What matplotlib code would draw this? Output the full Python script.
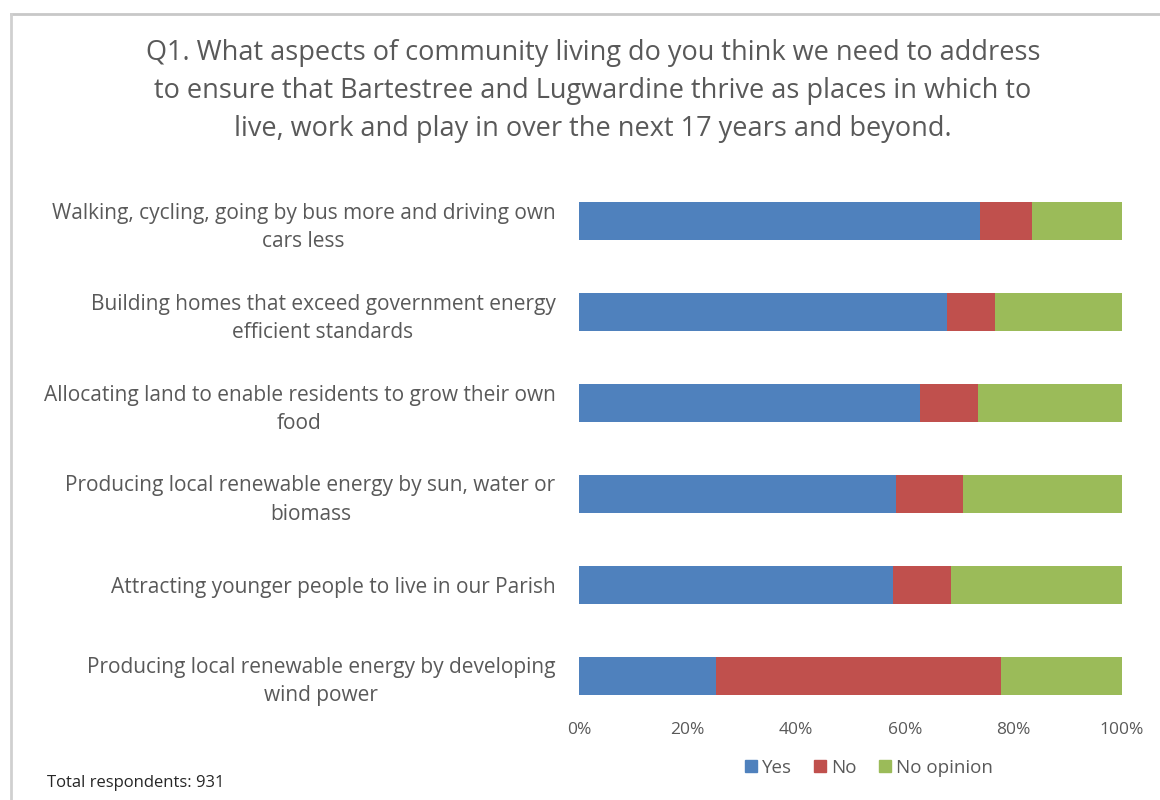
import matplotlib
matplotlib.use("Agg")
import matplotlib.pyplot as plt
from matplotlib.ticker import FuncFormatter
from matplotlib.lines import Line2D
import numpy as np

categories = [
    "Walking, cycling, going by bus more and driving own\ncars less",
    "Building homes that exceed government energy\nefficient standards",
    "Allocating land to enable residents to grow their own\nfood",
    "Producing local renewable energy by sun, water or\nbiomass",
    "Attracting younger people to live in our Parish",
    "Producing local renewable energy by developing\nwind power",
]
yes = [73.9, 67.7, 62.8, 58.4, 57.9, 25.3]
no = [9.5, 8.9, 10.7, 12.4, 10.6, 52.4]
no_opinion = [100 - a - b for a, b in zip(yes, no)]
series_names = ["Yes", "No", "No opinion"]
colors = ["#4F81BD", "#C0504D", "#9BBB59"]
x_ticks = [0, 20, 40, 60, 80, 100]

title_lines = [
    "Q1. What aspects of community living do you think we need to address",
    "to ensure that Bartestree and Lugwardine thrive as places in which to",
    "live, work and play in over the next 17 years and beyond.",
]
footnote = "Total respondents: 931"

plt.rcParams['font.family'] = ['Open Sans', 'DejaVu Sans']
text_color = "#595959"

fig = plt.figure(figsize=(11.6, 8.0), dpi=100)
ax = fig.add_axes([579/1160, 1 - 721/800, (1122 - 579)/1160, (721 - 176)/800])

ypos = np.arange(len(categories))
left = np.zeros(len(categories))
for vals, name, c in zip([yes, no, no_opinion], series_names, colors):
    ax.barh(ypos, vals, left=left, height=0.42, color=c, label=name)
    left = left + np.array(vals)

ax.set_xlim(0, 100)
ax.set_ylim(len(categories) - 0.5, -0.5)
ax.set_xticks(x_ticks)
ax.xaxis.set_major_formatter(FuncFormatter(lambda v, p: f"{int(v)}%"))
ax.tick_params(axis='x', length=0, labelsize=12.5, labelcolor=text_color, pad=1)
ax.set_yticks(ypos)
ax.set_yticklabels(categories, fontsize=15, color=text_color,
                   ha='right', multialignment='center', linespacing=1.45)
ax.tick_params(axis='y', length=0, pad=17)
for s in ax.spines.values():
    s.set_visible(False)

# Title
for i, line in enumerate(title_lines):
    fig.text(593/1160, 1 - (53 + 38*i)/800, line, ha='center', va='center',
             fontsize=19.5, color=text_color)

# Legend
handles = [Line2D([0], [0], marker='s', linestyle='none', markersize=8,
                  markerfacecolor=c, markeredgecolor=c) for c in colors]
fig.legend(handles, series_names, loc='center', bbox_to_anchor=(867/1160, 1 - 768/800),
           ncol=3, frameon=False, fontsize=13.5, labelcolor=text_color,
           handletextpad=0.1, columnspacing=1.0, handlelength=1.0)

fig.text(47/1160, 1 - 783/800, footnote, ha='left', va='center', fontsize=12,
         color="#262626")

# Border lines (top and left)
fig.add_artist(Line2D([11/1160, 1.0], [1 - 14/800, 1 - 14/800], color="#c8c8c8", lw=2))
fig.add_artist(Line2D([11/1160, 11/1160], [0.0, 1 - 14/800], color="#d0d0d0", lw=2))

fig.savefig("out.png", dpi=100)
